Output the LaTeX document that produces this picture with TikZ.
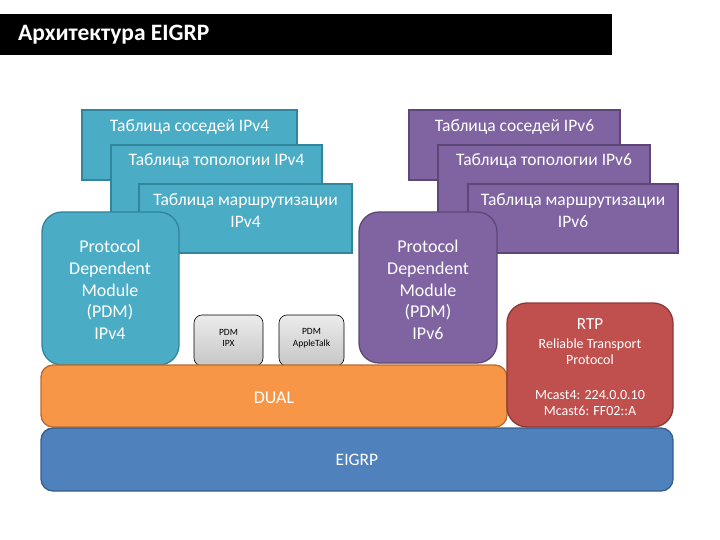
\documentclass[tikz,border=0pt]{standalone}
\usepackage{fontspec}
\setmainfont{Carlito}
\definecolor{tealF}{HTML}{4BACC6}
\definecolor{tealD}{HTML}{31859C}
\definecolor{purpF}{HTML}{8064A2}
\definecolor{purpD}{HTML}{5C4776}
\definecolor{orF}{HTML}{F79646}
\definecolor{orD}{HTML}{B66D31}
\definecolor{blF}{HTML}{4F81BD}
\definecolor{blD}{HTML}{385D8A}
\definecolor{rdF}{HTML}{C0504D}
\definecolor{rdD}{HTML}{8C3836}
\begin{document}
\begin{tikzpicture}[x=1pt,y=-1pt,
  box/.style={draw, line width=1.3pt, inner sep=0pt, outer sep=0pt, anchor=north west},
  tealbox/.style={box, fill=tealF, draw=tealD},
  purpbox/.style={box, fill=purpF, draw=purpD},
  tabtext/.style={text=white, font=\fontsize{17.5}{22}\selectfont, align=center, inner sep=0pt, anchor=north},
  pdmtext/.style={text=white, font=\fontsize{18}{21.7}\selectfont, align=center, inner sep=0pt},
  greybox/.style={draw=black, line width=0.6pt, rounded corners=8pt, top color=gray!15, bottom color=gray!45, inner sep=0pt, outer sep=0pt, anchor=north west, minimum width=69, minimum height=51},
  greytext/.style={text=black, font=\fontsize{9.5}{11.5}\selectfont, align=center, inner sep=0pt},
  rtptext/.style={text=white, font=\fontsize{14}{16.5}\selectfont, align=center, inner sep=0pt}]
\useasboundingbox (0,0) rectangle (720,540);
% title bar
\node[box, draw=none, fill=black, minimum width=612, minimum height=41] (bar) at (0,14) {};
\node[text=white, font=\bfseries\fontsize{23.5}{28}\selectfont, anchor=west, inner sep=0pt] (title) at (18,35) {Архитектура EIGRP};
% IPv4 tables
\node[tealbox, minimum width=215, minimum height=70] (t1) at (82,110) {};
\node[tabtext] (t1l) at (189.5,119.5) {Таблица соседей IPv4};
\node[tealbox, minimum width=211, minimum height=70] (t2) at (111,145) {};
\node[tabtext] (t2l) at (216.5,153.5) {Таблица топологии IPv4};
\node[tealbox, minimum width=213, minimum height=69] (t3) at (139,184) {};
\node[tabtext] (t3l) at (245.5,193) {Таблица маршрутизации\\IPv4};
% IPv6 tables
\node[purpbox, minimum width=211, minimum height=70] (p1) at (409,110) {};
\node[tabtext] (p1l) at (514.5,119.5) {Таблица соседей IPv6};
\node[purpbox, minimum width=212, minimum height=70] (p2) at (438,145) {};
\node[tabtext] (p2l) at (544,153.5) {Таблица топологии IPv6};
\node[purpbox, minimum width=210, minimum height=69] (p3) at (468,184) {};
\node[tabtext] (p3l) at (573,193) {Таблица маршрутизации\\IPv6};
% PDM boxes
\node[tealbox, rounded corners=20pt, minimum width=137, minimum height=153] (pdm4) at (42,212) {};
\node[pdmtext] (pdm4l) at (110,290) {Protocol\\Dependent\\Module\\(PDM)\\IPv4};
\node[purpbox, rounded corners=20pt, minimum width=138, minimum height=151] (pdm6) at (359,212) {};
\node[pdmtext] (pdm6l) at (428,290) {Protocol\\Dependent\\Module\\(PDM)\\IPv6};
\node[greybox] (ipx) at (194,315) {};
\node[greytext] (ipxl) at (228.5,338) {PDM\\IPX};
\node[greybox, minimum width=65] (atk) at (279,315) {};
\node[greytext] (atkl) at (311.5,338) {PDM\\AppleTalk};
% DUAL
\node[box, fill=orF, draw=orD, rounded corners=12pt, minimum width=466, minimum height=62] (dual) at (41,365) {};
\node[text=white, font=\fontsize{18}{20}\selectfont, inner sep=0pt] (duall) at (274,398) {DUAL};
% RTP
\node[box, fill=rdF, draw=rdD, rounded corners=20pt, minimum width=166, minimum height=124] (rtp) at (507,303) {};
\node[text=white, font=\fontsize{17}{20}\selectfont, inner sep=0pt] (rtpt) at (590,324) {RTP};
\node[rtptext] (rtpl) at (590,351.5) {Reliable Transport\\Protocol};
\node[rtptext] (mcl) at (590,403) {Mcast4: 224.0.0.10\\Mcast6: FF02::A};
% EIGRP
\node[box, fill=blF, draw=blD, rounded corners=12pt, minimum width=632, minimum height=63] (eigrp) at (41,428) {};
\node[text=white, font=\fontsize{17.5}{20}\selectfont, inner sep=0pt] (eigrpl) at (357,460) {EIGRP};
\end{tikzpicture}
\end{document}
